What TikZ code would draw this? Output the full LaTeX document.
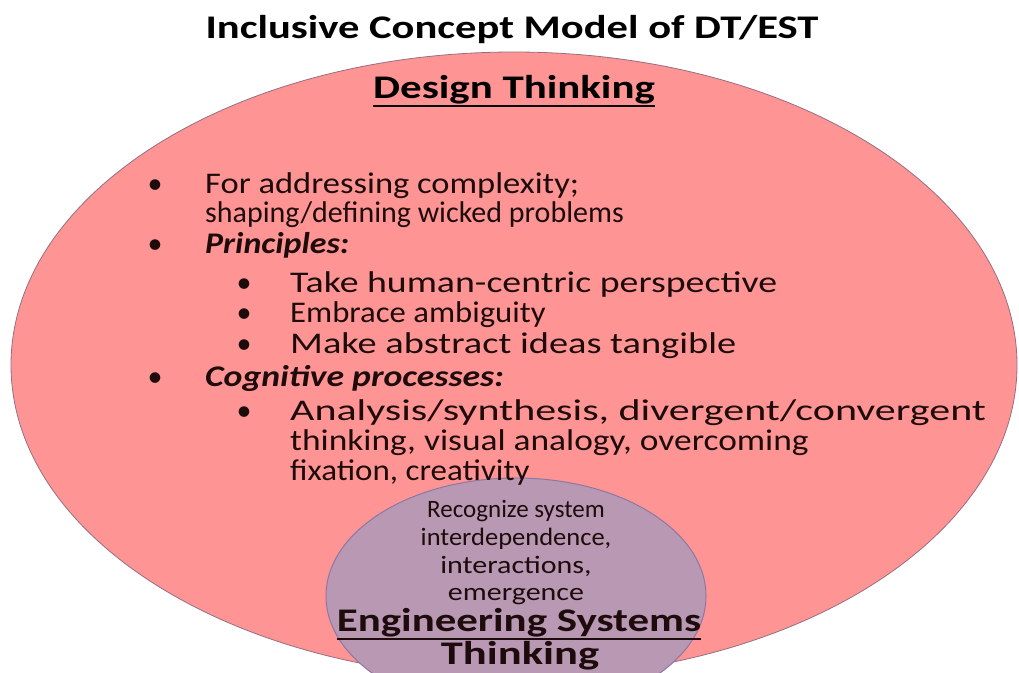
\documentclass[tikz,border=0pt]{standalone}
\usepackage{fontspec}
\usepackage{graphicx}
\setmainfont{Carlito}
\usetikzlibrary{shapes.geometric}
\begin{document}
\begin{tikzpicture}[x=1pt,y=-1pt,
  outer/.style={draw=outerline, line width=0.8pt, fill=pinkfill},
  inner/.style={draw=innerline, line width=1pt, fill=innerfill},
  txt/.style={inner sep=0pt, anchor=base west, text=textcol, font=\fontsize{30}{36}\selectfont},
  itxt/.style={inner sep=0pt, anchor=base, text=textcol, font=\fontsize{25}{30}\selectfont},
  bul/.style={inner sep=0pt, anchor=base, text=textcol, font=\fontsize{30}{36}\selectfont},
  ttl/.style={inner sep=0pt, anchor=base, text=black, font=\fontsize{33}{40}\selectfont\bfseries}]
\definecolor{pinkfill}{RGB}{255,148,148}
\definecolor{outerline}{RGB}{150,110,130}
\definecolor{innerfill}{RGB}{184,152,178}
\definecolor{innerline}{RGB}{140,120,165}
\definecolor{textcol}{RGB}{30,12,12}
\newcommand\ulx[2]{\leavevmode\vtop{\hbox{#2}\kern1pt\hrule height #1}}
\newcommand\sx[2]{\scalebox{#1}[1]{#2}}
\useasboundingbox (0,0) rectangle (1019,672);
\fill[white] (0,0) rectangle (1019,672);
\begin{scope}
\clip (0,0) rectangle (1019,672);
\node[outer, ellipse, minimum width=1006pt, minimum height=626pt, inner sep=0pt] (dt) at (514,365) {};
\node[inner, ellipse, minimum width=380pt, minimum height=236pt, inner sep=0pt] (est) at (516,596) {};
\end{scope}
\node[ttl] (title) at (512,38) {\sx{1.29}{Inclusive Concept Model of DT/EST}};
\node[ttl] (dtl) at (514,98) {\sx{1.3}{\ulx{2.5pt}{Design Thinking}}};
\node[bul] (b1) at (155,193) {•};
\node[txt] (t1a) at (205,193) {\sx{1.15}{For addressing complexity;}};
\node[txt] (t1b) at (205,222) {\sx{1.0}{shaping/defining wicked problems}};
\node[bul] (b2) at (155,253) {•};
\node[txt] (t2) at (205,253) {\sx{1.13}{\bfseries\itshape Principles:}};
\node[bul] (b21) at (244,292) {•};
\node[txt] (t21) at (290,292) {\sx{1.26}{Take human-centric perspective}};
\node[bul] (b22) at (244,322) {•};
\node[txt] (t22) at (290,322) {\sx{1.09}{Embrace ambiguity}};
\node[bul] (b23) at (244,353) {•};
\node[txt] (t23) at (290,353) {\sx{1.28}{Make abstract ideas tangible}};
\node[bul] (b3) at (155,386) {•};
\node[txt] (t3) at (205,386) {\sx{1.19}{\bfseries\itshape Cognitive processes:}};
\node[bul] (b31) at (244,420) {•};
\node[txt] (t31a) at (290,420) {\sx{1.4}{Analysis/synthesis, divergent/convergent}};
\node[txt] (t31b) at (290,450) {\sx{1.18}{thinking, visual analogy, overcoming}};
\node[txt] (t31c) at (290,480) {\sx{1.1}{fixation, creativity}};
\node[itxt] (e1) at (516,517) {Recognize system};
\node[itxt] (e2) at (516,545) {\sx{1.06}{interdependence,}};
\node[itxt] (e3) at (516,573) {\sx{1.2}{interactions,}};
\node[itxt] (e4) at (516,600) {\sx{1.2}{emergence}};
\node[ttl, text=textcol] (el) at (519,631) {\sx{1.3}{\ulx{2.5pt}{Engineering Systems}}};
\node[ttl, text=textcol] (el2) at (520,664) {\sx{1.35}{Thinking}};
\end{tikzpicture}
\end{document}
